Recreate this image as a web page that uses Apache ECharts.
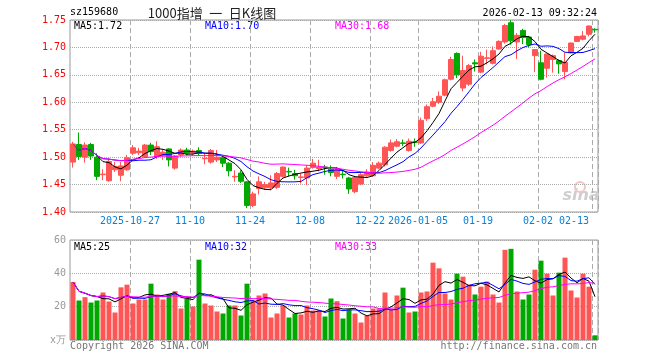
<!DOCTYPE html>
<html><head><meta charset="utf-8">
<script src="https://cdn.jsdelivr.net/npm/echarts@6/dist/echarts.min.js"></script>
<style>html,body{margin:0;padding:0;background:#fff}#c{width:660px;height:360px}</style>
</head><body><div id="c"></div>
<script>
const dates = [
'2025-10-13','2025-10-14','2025-10-15','2025-10-16','2025-10-17','2025-10-20','2025-10-21','2025-10-22','2025-10-23','2025-10-24',
'2025-10-27','2025-10-28','2025-10-29','2025-10-30','2025-10-31',
'2025-11-03','2025-11-04','2025-11-05','2025-11-06','2025-11-07','2025-11-10','2025-11-11','2025-11-12','2025-11-13','2025-11-14',
'2025-11-17','2025-11-18','2025-11-19','2025-11-20','2025-11-21','2025-11-24','2025-11-25','2025-11-26','2025-11-27','2025-11-28',
'2025-12-01','2025-12-02','2025-12-03','2025-12-04','2025-12-05','2025-12-08','2025-12-09','2025-12-10','2025-12-11','2025-12-12',
'2025-12-15','2025-12-16','2025-12-17','2025-12-18','2025-12-19','2025-12-22','2025-12-23','2025-12-24','2025-12-25','2025-12-26',
'2025-12-29','2025-12-30','2025-12-31',
'2026-01-05','2026-01-06','2026-01-07','2026-01-08','2026-01-09','2026-01-12','2026-01-13','2026-01-14','2026-01-15','2026-01-16',
'2026-01-19','2026-01-20','2026-01-21','2026-01-22','2026-01-23','2026-01-26','2026-01-27','2026-01-28','2026-01-29','2026-01-30',
'2026-02-02','2026-02-03','2026-02-04','2026-02-05','2026-02-06','2026-02-09','2026-02-10','2026-02-11','2026-02-12','2026-02-13'];

const opens = [
1.491,1.523,1.500,1.523,1.500,1.468,1.457,1.477,1.467,1.477,
1.507,1.508,1.501,1.522,1.501,1.503,1.515,1.480,1.504,1.513,
1.507,1.512,1.497,1.491,1.495,1.499,1.489,1.464,1.471,1.455,
1.412,1.443,1.444,1.444,1.445,1.465,1.474,1.470,1.463,1.462,
1.481,1.479,1.482,1.478,1.465,1.469,1.462,1.437,1.451,1.466,
1.466,1.480,1.486,1.512,1.520,1.526,1.512,1.528,1.526,1.570,
1.593,1.600,1.613,1.642,1.689,1.626,1.633,1.672,1.655,1.680,
1.671,1.697,1.710,1.745,1.710,1.731,1.719,1.685,1.672,1.662,
1.678,1.676,1.656,1.690,1.711,1.715,1.724,1.733];
const closes = [
1.524,1.501,1.522,1.502,1.465,1.469,1.492,1.483,1.484,1.499,
1.517,1.511,1.522,1.510,1.519,1.509,1.495,1.502,1.513,1.507,
1.511,1.507,1.498,1.512,1.500,1.489,1.475,1.465,1.456,1.412,
1.433,1.455,1.450,1.453,1.470,1.482,1.473,1.466,1.464,1.480,
1.489,1.482,1.481,1.472,1.477,1.468,1.442,1.463,1.468,1.473,
1.485,1.489,1.518,1.526,1.528,1.525,1.529,1.527,1.567,1.592,
1.601,1.611,1.641,1.678,1.650,1.658,1.667,1.670,1.684,1.681,
1.694,1.711,1.740,1.712,1.722,1.718,1.705,1.696,1.642,1.688,
1.685,1.670,1.673,1.708,1.720,1.721,1.739,1.732];
const lows = [
1.481,1.495,1.490,1.495,1.458,1.458,1.455,1.473,1.456,1.475,
1.504,1.504,1.499,1.504,1.497,1.495,1.483,1.477,1.501,1.503,
1.504,1.503,1.487,1.488,1.491,1.482,1.465,1.455,1.453,1.407,
1.409,1.432,1.441,1.441,1.442,1.463,1.465,1.459,1.452,1.449,
1.479,1.474,1.468,1.465,1.460,1.461,1.433,1.434,1.449,1.463,
1.464,1.478,1.483,1.510,1.518,1.520,1.510,1.519,1.524,1.566,
1.591,1.597,1.611,1.640,1.644,1.620,1.630,1.656,1.653,1.669,
1.669,1.696,1.707,1.705,1.679,1.706,1.700,1.655,1.640,1.645,
1.654,1.652,1.642,1.689,1.710,1.713,1.720,1.727];
const highs = [
1.528,1.545,1.527,1.526,1.507,1.478,1.497,1.491,1.491,1.504,
1.522,1.517,1.524,1.526,1.529,1.515,1.516,1.504,1.516,1.517,
1.514,1.518,1.506,1.515,1.513,1.503,1.491,1.476,1.476,1.456,
1.437,1.465,1.455,1.467,1.473,1.483,1.481,1.477,1.470,1.485,
1.497,1.495,1.486,1.485,1.482,1.475,1.464,1.466,1.471,1.478,
1.491,1.492,1.520,1.532,1.533,1.532,1.534,1.534,1.572,1.596,
1.608,1.620,1.643,1.683,1.691,1.685,1.670,1.678,1.692,1.696,
1.702,1.713,1.743,1.750,1.726,1.734,1.721,1.697,1.694,1.688,
1.687,1.678,1.691,1.709,1.721,1.730,1.740,1.735];
const volumes = [
34.8,23.7,25.7,22.5,23.7,28.5,23.1,16.5,31.6,33.2,
21.9,24.3,24.3,33.8,27.3,24.3,27.7,29.3,18.9,24.9,
20.1,48.2,21.9,20.7,17.1,15.9,20.7,20.7,14.7,33.8,
23.7,26.7,27.9,13.5,15.9,20.7,13.5,15.9,15.3,20.7,
17.7,17.7,14.1,24.9,23.3,12.9,18.3,15.9,10.5,14.7,
18.9,18.9,28.5,18.3,26.7,31.4,16.5,17.1,28.5,29.1,
46.4,43.0,27.9,24.3,39.8,38.0,33.2,27.3,32.0,35.0,
27.3,22.5,54.1,54.7,29.1,24.3,27.3,42.2,47.6,39.8,
26.7,40.4,49.4,29.7,25.5,39.8,32.0,2.8];

const tickDates = ['2025-10-27','2025-11-10','2025-11-24','2025-12-08','2025-12-22','2026-01-05','2026-01-19','2026-02-02','2026-02-13'];
const tickLabels = ['2025-10-27','11-10','11-24','12-08','12-22','2026-01-05','01-19','02-02','02-13'];
const priceLegend = ['MA5:1.72','MA10:1.70','MA30:1.68'];
const volLegend = ['MA5:25','MA10:32','MA30:33'];
const maPeriods = [5,10,30];
const maColors = ['#000000','#0000ff','#ff00ff'];
const upColor = '#ff5555', downColor = '#00a800';
const mono = 'DejaVu Sans Mono';

function ma(arr, n){
  return arr.map((_, i) => {
    const s = Math.max(0, i - n + 1);
    let sum = 0;
    for (let j = s; j <= i; j++) sum += arr[j];
    return +(sum / (i - s + 1)).toFixed(4);
  });
}
const tickIdx = tickDates.map(d => dates.indexOf(d));
const isTick = (i) => tickIdx.indexOf(i) >= 0;

const kData = dates.map((d, i) => [opens[i], closes[i], lows[i], highs[i]]);
const volData = volumes.map((v, i) => ({ value: v, itemStyle: { color: closes[i] >= opens[i] ? upColor : downColor } }));

const series = [{
  type: 'candlestick', xAxisIndex: 0, yAxisIndex: 0, data: kData, barWidth: 5,
  itemStyle: { color: upColor, color0: downColor, borderColor: upColor, borderColor0: downColor, borderWidth: 1 }
}];
maPeriods.forEach((p, k) => {
  series.push({ type: 'line', xAxisIndex: 0, yAxisIndex: 0, data: ma(closes, p), symbol: 'none',
    lineStyle: { color: maColors[k], width: 1 }, z: 3 });
});
series.push({ type: 'bar', xAxisIndex: 1, yAxisIndex: 1, data: volData, barWidth: 5 });
maPeriods.forEach((p, k) => {
  series.push({ type: 'line', xAxisIndex: 1, yAxisIndex: 1, data: ma(volumes, p), symbol: 'none',
    lineStyle: { color: maColors[k], width: 1 }, z: 3 });
});

const legendX = [74, 205, 335];
const graphic = [
  { type: 'text', left: 70, top: 7, style: { text: 'sz159680', font: '10px ' + mono, fill: '#000' } },
  { type: 'text', x: 212, y: 13, style: { text: '1000指增\u2002一\u2002日K线图', font: '13px "Noto Sans CJK SC"', fill: '#222', align: 'center', verticalAlign: 'middle' } },
  { type: 'text', x: 597, y: 13, style: { text: '2026-02-13 09:32:24', font: '10px ' + mono, fill: '#000', align: 'right', verticalAlign: 'middle' } },
  { type: 'text', x: 70, y: 346, style: { text: 'Copyright 2026 SINA.COM', font: '10px ' + mono, fill: '#777', verticalAlign: 'middle' } },
  { type: 'text', x: 597, y: 346, style: { text: 'http://finance.sina.com.cn', font: '10px ' + mono, fill: '#777', align: 'right', verticalAlign: 'middle' } },
  { type: 'text', x: 581, y: 196, style: { text: 'sina', font: 'italic bold 16px "DejaVu Sans"', fill: '#cfcfcf', align: 'center', verticalAlign: 'middle' }, z: 0 },
  { type: 'circle', shape: { cx: 580, cy: 187, r: 5 }, style: { fill: 'none', stroke: '#f4c4c4', lineWidth: 2 }, z: 0 }
];
priceLegend.forEach((t, k) => graphic.push({ type: 'text', x: legendX[k], y: 26, style: { text: t, font: '10px ' + mono, fill: maColors[k], verticalAlign: 'middle' } }));
volLegend.forEach((t, k) => graphic.push({ type: 'text', x: legendX[k], y: 247, style: { text: t, font: '10px ' + mono, fill: maColors[k], verticalAlign: 'middle' } }));

const splitX = { show: true, interval: (i) => isTick(i), lineStyle: { color: '#aaaaaa', type: [5, 3], width: 1 } };
const option = {
  animation: false,
  backgroundColor: '#fff',
  grid: [
    { left: 70, top: 20, width: 528, height: 192, show: true, borderColor: '#999', borderWidth: 1, backgroundColor: 'transparent' },
    { left: 70, top: 240, width: 528, height: 100, show: true, borderColor: '#999', borderWidth: 1, backgroundColor: 'transparent' }
  ],
  xAxis: [
    { type: 'category', gridIndex: 0, data: dates, boundaryGap: true,
      axisLine: { show: false }, axisTick: { show: false },
      axisLabel: { interval: (i) => isTick(i), formatter: (v) => tickLabels[tickDates.indexOf(v)] || '',
        color: '#0a7fd6', fontFamily: mono, fontSize: 10, margin: 4, padding: [0, 6, 0, 0], alignMaxLabel: 'right' },
      splitLine: splitX },
    { type: 'category', gridIndex: 1, data: dates, boundaryGap: true,
      axisLine: { show: false }, axisTick: { show: false }, axisLabel: { show: false },
      splitLine: splitX }
  ],
  yAxis: [
    { type: 'value', gridIndex: 0, min: 1.40, max: 1.75, interval: 0.05, scale: true,
      axisLine: { show: false }, axisTick: { show: false },
      axisLabel: { color: '#ff0000', fontFamily: mono, fontSize: 10, margin: 4, formatter: (v) => v.toFixed(2) },
      splitLine: { lineStyle: { color: '#aaaaaa', type: 'dotted' } } },
    { type: 'value', gridIndex: 1, min: 0, max: 60, interval: 20,
      axisLine: { show: false }, axisTick: { show: false },
      axisLabel: { color: '#999999', fontFamily: mono, fontSize: 10, margin: 4, formatter: (v) => v === 0 ? 'x万' : String(v) },
      splitLine: { lineStyle: { color: '#aaaaaa', type: 'dotted' } } }
  ],
  graphic: graphic,
  series: series
};
const chart = echarts.init(document.getElementById('c'), null, { renderer: 'canvas' });
chart.setOption(option);
</script>
</body></html>
